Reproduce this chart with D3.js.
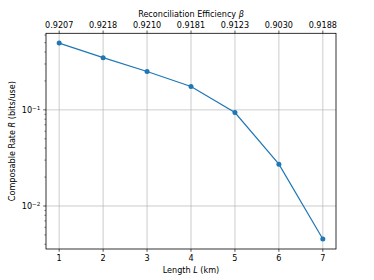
<!DOCTYPE html>
<html>
<head>
<meta charset="utf-8">
<script src="https://cdn.jsdelivr.net/npm/d3@7"></script>
<style>
body { margin: 0; background: #fff; }
text { font-family: "DejaVu Sans", sans-serif; fill: #000; }
</style>
</head>
<body>
<div id="chart"></div>
<script>
var w = 374, h = 280;

// data
var lengths = [1, 2, 3, 4, 5, 6, 7];
var rates = [0.495, 0.349, 0.2506, 0.175, 0.0937, 0.0272, 0.00453];
var betaLabels = ["0.9207", "0.9218", "0.9210", "0.9181", "0.9123", "0.9030", "0.9188"];

var pLeft = 46, pRight = 336, pTop = 33.3, pBottom = 249;
var fs = 8.1;

var svg = d3.select("#chart").append("svg")
    .attr("width", w)
    .attr("height", h);

var x = d3.scaleLinear().domain([0.7, 7.3]).range([pLeft, pRight]);
var y = d3.scaleLog().domain([Math.pow(10, -2.4475), Math.pow(10, -0.2035)]).range([pBottom, pTop]);

// grid
var g = svg.append("g");
g.selectAll(".vgrid")
    .data(lengths)
    .enter().append("line")
    .attr("x1", function(d) { return x(d); })
    .attr("x2", function(d) { return x(d); })
    .attr("y1", pTop).attr("y2", pBottom)
    .attr("stroke", "#b0b0b0").attr("stroke-width", 0.65);

var decades = [0.1, 0.01];
g.selectAll(".hgrid")
    .data(decades)
    .enter().append("line")
    .attr("x1", pLeft).attr("x2", pRight)
    .attr("y1", function(d) { return y(d); })
    .attr("y2", function(d) { return y(d); })
    .attr("stroke", "#b0b0b0").attr("stroke-width", 0.65);

// bottom axis
g.selectAll(".xtick")
    .data(lengths)
    .enter().append("line")
    .attr("x1", function(d) { return x(d); })
    .attr("x2", function(d) { return x(d); })
    .attr("y1", pBottom).attr("y2", pBottom + 2.8)
    .attr("stroke", "#000").attr("stroke-width", 0.65);
g.selectAll(".xlab")
    .data(lengths)
    .enter().append("text")
    .attr("x", function(d) { return x(d); })
    .attr("y", pBottom + 2.8 + 2.8 + fs * 0.76)
    .attr("text-anchor", "middle")
    .attr("font-size", fs)
    .text(function(d) { return d; });

var xl = svg.append("text")
    .attr("x", (pLeft + pRight) / 2)
    .attr("y", 273)
    .attr("text-anchor", "middle")
    .attr("font-size", fs);
xl.append("tspan").text("Length ");
xl.append("tspan").attr("font-style", "italic").text("L");
xl.append("tspan").text(" (km)");

// top axis
g.selectAll(".ttick")
    .data(lengths)
    .enter().append("line")
    .attr("x1", function(d) { return x(d); })
    .attr("x2", function(d) { return x(d); })
    .attr("y1", pTop).attr("y2", pTop - 2.8)
    .attr("stroke", "#000").attr("stroke-width", 0.65);
g.selectAll(".tlab")
    .data(lengths)
    .enter().append("text")
    .attr("x", function(d) { return x(d); })
    .attr("y", pTop - 5.6)
    .attr("text-anchor", "middle")
    .attr("font-size", fs)
    .text(function(d, i) { return betaLabels[i]; });

var tl = svg.append("text")
    .attr("x", (pLeft + pRight) / 2)
    .attr("y", 16.5)
    .attr("text-anchor", "middle")
    .attr("font-size", fs);
tl.append("tspan").text("Reconciliation Efficiency ");
tl.append("tspan").attr("font-style", "italic").text("β");

// left axis: major + minor log ticks
var minor = [];
[0.001, 0.01, 0.1].forEach(function(d) {
    for (var k = 2; k <= 9; k++) {
        var v = d * k;
        if (v >= y.domain()[0] && v <= y.domain()[1]) minor.push(v);
    }
});
g.selectAll(".ymin")
    .data(minor)
    .enter().append("line")
    .attr("x1", pLeft - 1.6).attr("x2", pLeft)
    .attr("y1", function(d) { return y(d); })
    .attr("y2", function(d) { return y(d); })
    .attr("stroke", "#000").attr("stroke-width", 0.5);
g.selectAll(".ymaj")
    .data(decades)
    .enter().append("line")
    .attr("x1", pLeft - 2.8).attr("x2", pLeft)
    .attr("y1", function(d) { return y(d); })
    .attr("y2", function(d) { return y(d); })
    .attr("stroke", "#000").attr("stroke-width", 0.65);
decades.forEach(function(d) {
    var t = svg.append("text")
        .attr("x", pLeft - 5.6)
        .attr("y", y(d) + fs * 0.36)
        .attr("text-anchor", "end")
        .attr("font-size", fs);
    t.append("tspan").text("10");
    t.append("tspan")
        .attr("font-size", fs * 0.7)
        .attr("dy", -fs * 0.4)
        .text("\u2212" + Math.round(-Math.log10(d)));
});

var yl = svg.append("text")
    .attr("transform", "translate(15," + ((pTop + pBottom) / 2) + ") rotate(-90)")
    .attr("text-anchor", "middle")
    .attr("font-size", fs);
yl.append("tspan").text("Composable Rate ");
yl.append("tspan").attr("font-style", "italic").text("R");
yl.append("tspan").text(" (bits/use)");

// series
var line = d3.line()
    .x(function(d, i) { return x(lengths[i]); })
    .y(function(d) { return y(d); });
svg.append("path")
    .datum(rates)
    .attr("d", line)
    .attr("fill", "none")
    .attr("stroke", "#1f77b4")
    .attr("stroke-width", 1.2);
svg.selectAll(".dot")
    .data(rates)
    .enter().append("circle")
    .attr("cx", function(d, i) { return x(lengths[i]); })
    .attr("cy", function(d) { return y(d); })
    .attr("r", 2.5)
    .attr("fill", "#1f77b4");

// frame
svg.append("rect")
    .attr("x", pLeft).attr("y", pTop)
    .attr("width", pRight - pLeft).attr("height", pBottom - pTop)
    .attr("fill", "none")
    .attr("stroke", "#000")
    .attr("stroke-width", 0.8);
</script>
</body>
</html>
